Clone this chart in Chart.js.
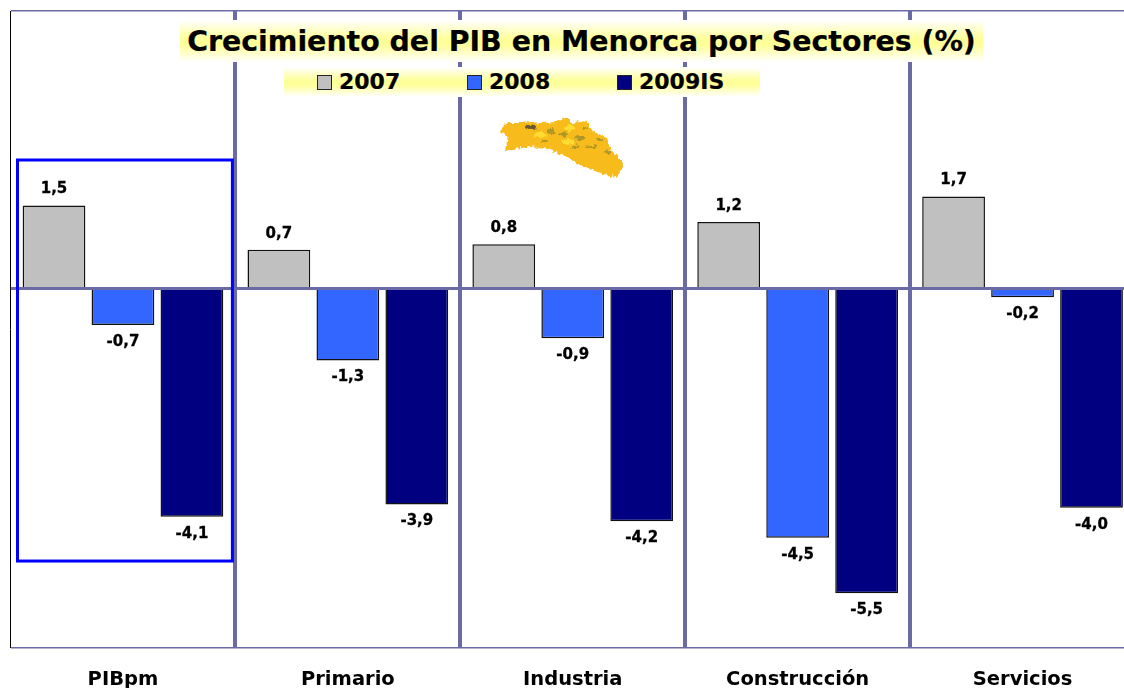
<!DOCTYPE html>
<html>
<head>
<meta charset="utf-8">
<script src="https://cdn.jsdelivr.net/npm/chart.js@4"></script>
<style>
    html, body { margin: 0; background: #fff; overflow: hidden; width: 1124px; height: 688px; }
    #wrap { position: relative; width: 1124px; height: 688px; overflow: hidden; font-family: "DejaVu Sans", sans-serif; font-weight: bold; color: #000; }
    canvas { position: absolute; left: 0; top: 0; }
    .band { position: absolute; background: linear-gradient(to bottom, #fff 0%, #ffff99 45%, #ffff99 60%, #fff 100%); white-space: nowrap; }
    #title { left: 180px; top: 20px; width: 803px; height: 42px; line-height: 44px; text-align: center; font-size: 28.4px; -webkit-text-stroke: 0.2px #000; }
    #legend { left: 284px; top: 67px; width: 476px; height: 30px; line-height: 30px; font-size: 22px; -webkit-text-stroke: 0.2px #000; }
    .key { position: absolute; top: 0; }
    .key i { position: absolute; left: 0; top: 8px; width: 13px; height: 13px; border: 1px solid #222; }
    .key span { position: absolute; left: 22px; top: 0; }
    #mapa { position: absolute; left: 495px; top: 110px; }
</style>
</head>
<body>
<div id="wrap">
    <canvas id="chart" width="1140" height="688"></canvas>
    <svg id="mapa" width="135" height="75" viewBox="495 110 135 75">
        <defs>
            <filter id="rough" x="-10%" y="-10%" width="120%" height="120%">
                <feTurbulence type="fractalNoise" baseFrequency="0.25" numOctaves="2" seed="4" result="noise"/>
                <feDisplacementMap in="SourceGraphic" in2="noise" scale="6" xChannelSelector="R" yChannelSelector="G"/>
                <feGaussianBlur stdDeviation="0.5"/>
            </filter>
        </defs>
        <g filter="url(#rough)">
            <path fill="#f7bb1e" d="M500 130 L507 123 L522 123 L530 122 L542 123 L557 122 L567 117 L572 123 L581 121 L588 122 L588 128 L600 135 L607 137 L609 146 L613 152 L623 163 L619 173 L615 177 L600 173 L580 165 L563 155 L547 149 L530 147 L505 150 L508 138 Z"/>
            <g fill="#8e8a2a" opacity="0.7">
                <ellipse cx="551" cy="131" rx="4" ry="3"/>
                <ellipse cx="563" cy="134" rx="4" ry="2"/>
                <ellipse cx="580" cy="138" rx="5" ry="2"/>
                <ellipse cx="592" cy="147" rx="6" ry="2"/>
                <ellipse cx="600" cy="140" rx="3" ry="2"/>
                <ellipse cx="575" cy="147" rx="3" ry="2"/>
                <ellipse cx="545" cy="141" rx="4" ry="1"/>
                <ellipse cx="585" cy="128" rx="3" ry="2"/>
                <ellipse cx="608" cy="152" rx="3" ry="2"/>
            </g>
            <ellipse cx="531" cy="127" rx="5" ry="3" fill="#6b5a30"/>
            <g fill="#ffdc30">
                <ellipse cx="540" cy="135" rx="7" ry="3"/>
                <ellipse cx="570" cy="128" rx="5" ry="3"/>
                <ellipse cx="568" cy="142" rx="6" ry="3"/>
            </g>
        </g>
    </svg>
    <div id="title" class="band"></div>
    <div id="legend" class="band"></div>
</div>
<script>
const titleText = "Crecimiento del PIB en Menorca por Sectores (%)";
const categories = ["PIBpm", "Primario", "Industria", "Construcción", "Servicios"];
const seriesNames = ["2007", "2008", "2009IS"];
const values2007 = [1.5, 0.7, 0.8, 1.2, 1.66];
const values2008 = [-0.66, -1.3, -0.9, -4.5, -0.16];
const values2009 = [-4.12, -3.9, -4.2, -5.5, -3.96];
const seriesColors = ["#c0c0c0", "#3366ff", "#000080"];
const legendOffsets = [33, 183, 333];
const lineColor = "#6a6aa4";
const yMin = -6.49;
const yMax = 5.01;

function fmt(v) {
    return v.toFixed(1).replace(".", ",");
}

document.getElementById("title").textContent = titleText;
const legendBox = document.getElementById("legend");
seriesNames.forEach((name, i) => {
    const key = document.createElement("div");
    key.className = "key";
    key.style.left = legendOffsets[i] + "px";
    key.innerHTML = `<i style="background:${seriesColors[i]}"></i><span>${name}</span>`;
    legendBox.appendChild(key);
});

// etiquetas de valor encima / debajo de cada barra
const barLabels = {
    id: "barLabels",
    afterDatasetsDraw(chart) {
        const ctx = chart.ctx;
        ctx.save();
        ctx.font = "bold 15px 'DejaVu Sans'";
        ctx.fillStyle = "#000";
        ctx.strokeStyle = "#000";
        ctx.lineWidth = 0.3;
        ctx.textAlign = "center";
        ctx.textBaseline = "middle";
        chart.data.datasets.forEach((ds, d) => {
            chart.getDatasetMeta(d).data.forEach((bar, i) => {
                const v = ds.data[i];
                const ty = v >= 0 ? bar.y - 16 : bar.y + 17;
                ctx.fillText(fmt(v), bar.x, ty);
                ctx.strokeText(fmt(v), bar.x, ty);
            });
        });
        ctx.restore();
    }
};

// linea negra izquierda y recuadro azul que resalta la primera categoria
const highlight = {
    id: "highlight",
    afterDraw(chart) {
        const { x, y } = chart.scales;
        const area = chart.chartArea;
        const half = (x.getPixelForValue(1) - x.getPixelForValue(0)) / 2;
        const left = x.getPixelForValue(0) - half + 7;
        const right = x.getPixelForValue(0) + half - 3;
        const top = y.getPixelForValue(2.32);
        const bottom = y.getPixelForValue(-4.92);
        const ctx = chart.ctx;
        ctx.save();
        ctx.strokeStyle = "#000";
        ctx.lineWidth = 1;
        ctx.beginPath();
        ctx.moveTo(area.left, area.top);
        ctx.lineTo(area.left, area.bottom);
        ctx.stroke();
        ctx.strokeStyle = "#0000ff";
        ctx.lineWidth = 3;
        ctx.strokeRect(left, top, right - left, bottom - top);
        ctx.restore();
    }
};

new Chart(document.getElementById("chart"), {
    type: "bar",
    data: {
        labels: categories,
        datasets: [values2007, values2008, values2009].map((data, i) => ({
            label: seriesNames[i],
            data: data,
            backgroundColor: seriesColors[i],
            borderColor: "#111",
            borderWidth: 1.5,
            categoryPercentage: 0.92,
            barPercentage: 0.91
        }))
    },
    options: {
        responsive: false,
        animation: false,
        layout: { padding: { left: 10.5, right: 5, top: 11, bottom: 0 } },
        plugins: {
            legend: { display: false },
            title: { display: false },
            tooltip: { enabled: false }
        },
        scales: {
            x: {
                offset: true,
                afterFit: (scale) => { scale.height = 40; },
                grid: {
                    offset: true,
                    drawTicks: false,
                    color: lineColor,
                    lineWidth: (c) => (c.index === 0 ? 0 : 4)
                },
                border: { display: false },
                ticks: {
                    color: "#000",
                    padding: 20,
                    maxRotation: 0,
                    font: { family: "DejaVu Sans", weight: "bold", size: 19.5 }
                }
            },
            y: {
                min: yMin,
                max: yMax,
                afterBuildTicks: (scale) => {
                    scale.ticks = [{ value: yMin }, { value: 0 }, { value: yMax }];
                },
                grid: {
                    z: 1,
                    drawTicks: false,
                    color: lineColor,
                    lineWidth: (c) => (c.tick.value === 0 ? 3 : 1.5)
                },
                border: { display: false },
                ticks: { display: false }
            }
        }
    },
    plugins: [barLabels, highlight]
});
</script>
</body>
</html>
